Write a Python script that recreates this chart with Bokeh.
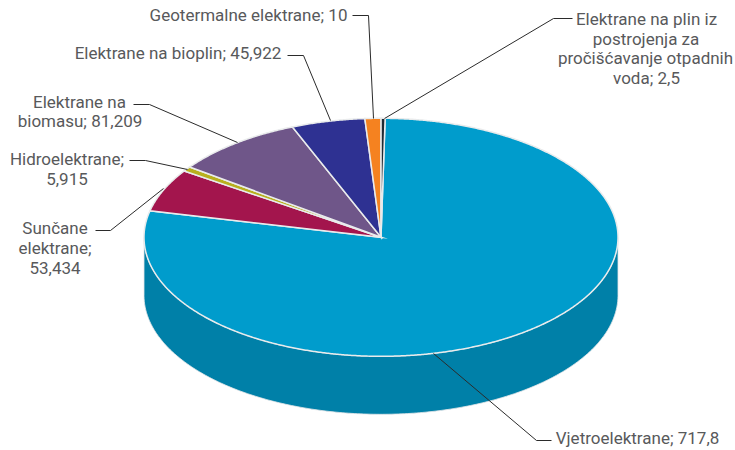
import numpy as np
from bokeh.plotting import figure
from bokeh.embed import file_html
from bokeh.resources import INLINE
from bokeh.core.properties import value

# data, clockwise from the first slice
categories = ["Vjetroelektrane", "Sunčane elektrane", "Hidroelektrane", "Elektrane na biomasu",
              "Elektrane na bioplin", "Geotermalne elektrane", "Elektrane na plin iz postrojenja za pročišćavanje otpadnih voda"]
values = [717.8, 53.434, 5.915, 81.209, 45.922, 10, 2.5]
top_colors = ["#009ccc", "#a3154d", "#b8b01e", "#6f5689", "#2e3192", "#f58220", "#1f2a33"]
side_colors = ["#0080a8", "#861040", "#98901a", "#5a4670", "#252878", "#c86a18", "#151c22"]

# label lines: text, centre x, centre y
label_lines = ["Geotermalne elektrane; 10", "Elektrane na bioplin; 45,922", "Elektrane na", "biomasu; 81,209",
               "Hidroelektrane;", "5,915", "Sunčane", "elektrane;", "53,434",
               "Elektrane na plin iz", "postrojenja za", "pročišćavanje otpadnih", "voda; 2,5",
               "Vjetroelektrane; 717,8"]
label_x = [248, 177.5, 79, 79.5, 66.5, 66.5, 54.5, 54.5, 54.5, 646, 645.5, 645, 646, 637]
label_y = [14, 52.5, 101, 120.5, 158.5, 178, 227, 247, 267, 18, 38, 57.5, 77, 437]

# leader lines
leaders_x = [[352, 368, 373], [287, 303, 330], [133, 149, 237], [129, 145, 187], [95, 110, 163], [572, 553, 384], [551, 536, 433]]
leaders_y = [[15, 15, 118], [55, 55, 120], [104, 104, 142], [160, 160, 169], [230, 230, 188], [18, 18, 118], [440, 440, 353]]

CX, CY, RX, RY, DEPTH, START = 380.5, 236.8, 237, 119, 58, 1.0

p = figure(width=735, height=450, x_range=(0, 735), y_range=(450, 0), output_backend="svg",
           toolbar_location=None, min_border=0)
p.axis.visible = False
p.grid.visible = False
p.outline_line_color = None

v = np.array(values, dtype=float)
edges = START + np.concatenate([[0], np.cumsum(v)]) / v.sum() * 360

# side wall: only the front half of the rim (90°..270°) can be seen
for a, b, c in zip(edges[:-1], edges[1:], side_colors):
    lo, hi = max(a, 90), min(b, 270)
    if hi <= lo:
        continue
    t = np.radians(np.linspace(lo, hi, 240))
    x = CX + RX * np.sin(t)
    y = CY - RY * np.cos(t)
    p.patch(np.r_[x, x[::-1]], np.r_[y, y[::-1] + DEPTH], fill_color=c,
            line_color="#e4e6e8", line_width=0.8)

# top face
for a, b, c in zip(edges[:-1], edges[1:], top_colors):
    t = np.radians(np.linspace(a, b, max(int(b - a) * 3, 4)))
    x = CX + RX * np.sin(t)
    y = CY - RY * np.cos(t)
    p.patch(np.r_[CX, x], np.r_[CY, y], fill_color=c, line_color="#e9ebec", line_width=1.5,
            line_join="miter")

p.multi_line(leaders_x, leaders_y, line_color="#2b2b2b", line_width=1)

p.text(label_x, label_y, text=label_lines, text_font=value("Roboto"), text_font_size="17px",
       text_color="#58595b", text_align="center", text_baseline="middle")

open("out.html", "w").write(file_html(p, INLINE))
